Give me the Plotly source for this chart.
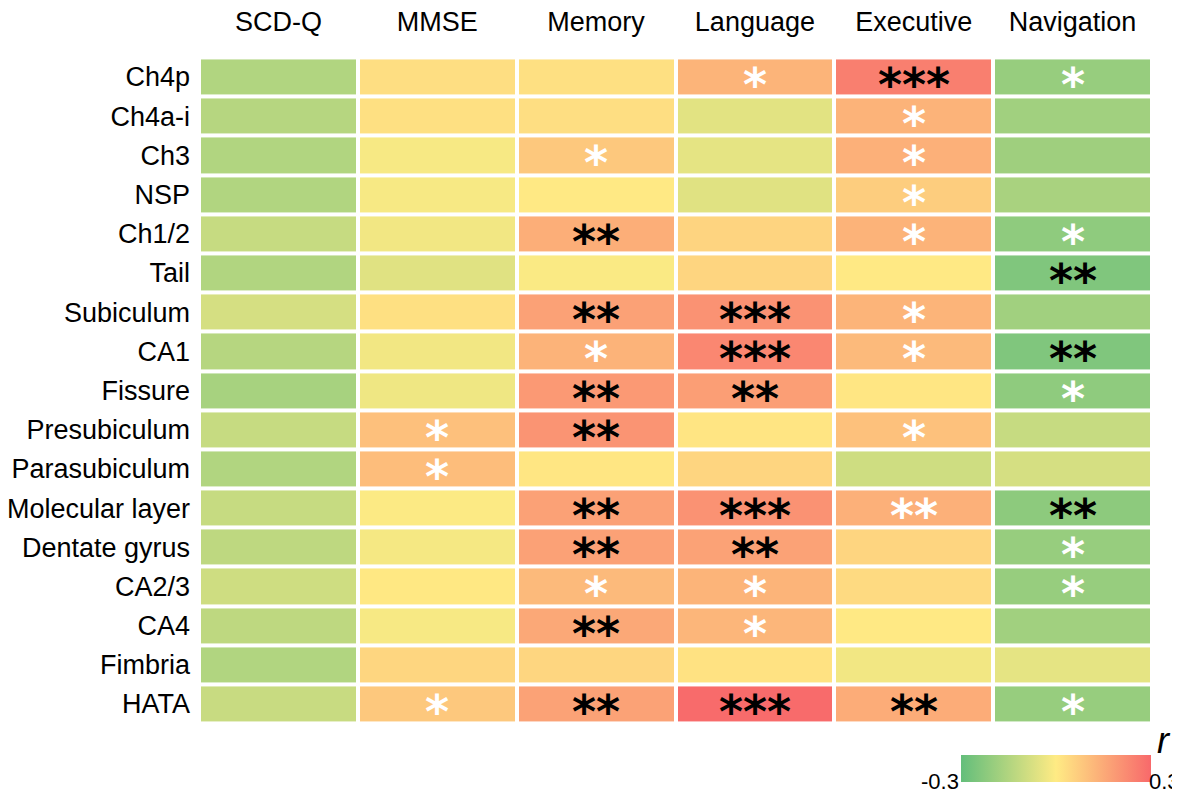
import plotly.graph_objects as go

# columns and hippocampal / basal forebrain subregions
measures = ["SCD-Q", "MMSE", "Memory", "Language", "Executive", "Navigation"]
regions = ["Ch4p", "Ch4a-i", "Ch3", "NSP", "Ch1/2", "Tail", "Subiculum", "CA1",
           "Fissure", "Presubiculum", "Parasubiculum", "Molecular layer",
           "Dentate gyrus", "CA2/3", "CA4", "Fimbria", "HATA"]

# correlation coefficients r (rows follow regions, columns follow measures)
r_values = [
    [-0.15, 0.030, 0.025, 0.127, 0.250, -0.200],
    [-0.14, 0.025, 0.030, -0.055, 0.130, -0.180],
    [-0.15, -0.015, 0.080, -0.050, 0.135, -0.185],
    [-0.15, -0.015, 0.005, -0.060, 0.070, -0.165],
    [-0.11, -0.025, 0.140, 0.053, 0.130, -0.215],
    [-0.15, -0.060, -0.010, 0.050, 0.005, -0.245],
    [-0.08, 0.025, 0.170, 0.205, 0.127, -0.180],
    [-0.14, -0.025, 0.130, 0.230, 0.113, -0.245],
    [-0.17, -0.030, 0.190, 0.178, 0.012, -0.215],
    [-0.11, 0.100, 0.200, 0.014, 0.097, -0.110],
    [-0.15, 0.106, 0.012, 0.050, -0.095, -0.080],
    [-0.11, -0.005, 0.170, 0.205, 0.135, -0.220],
    [-0.125, -0.020, 0.170, 0.168, 0.050, -0.200],
    [-0.095, 0.007, 0.113, 0.127, 0.040, -0.200],
    [-0.125, -0.015, 0.155, 0.122, 0.005, -0.180],
    [-0.15, 0.048, 0.048, 0.020, -0.025, -0.050],
    [-0.105, 0.080, 0.168, 0.295, 0.145, -0.200],
]

# significance marks and their colour (w = white, k = black)
stars = [
    ["", "", "", "*", "***", "*"],
    ["", "", "", "", "*", ""],
    ["", "", "*", "", "*", ""],
    ["", "", "", "", "*", ""],
    ["", "", "**", "", "*", "*"],
    ["", "", "", "", "", "**"],
    ["", "", "**", "***", "*", ""],
    ["", "", "*", "***", "*", "**"],
    ["", "", "**", "**", "", "*"],
    ["", "*", "**", "", "*", ""],
    ["", "*", "", "", "", ""],
    ["", "", "**", "***", "**", "**"],
    ["", "", "**", "**", "", "*"],
    ["", "", "*", "*", "", "*"],
    ["", "", "**", "*", "", ""],
    ["", "", "", "", "", ""],
    ["", "*", "**", "***", "**", "*"],
]
star_colors = [
    ["", "", "", "w", "k", "w"],
    ["", "", "", "", "w", ""],
    ["", "", "w", "", "w", ""],
    ["", "", "", "", "w", ""],
    ["", "", "k", "", "w", "w"],
    ["", "", "", "", "", "k"],
    ["", "", "k", "k", "w", ""],
    ["", "", "w", "k", "w", "k"],
    ["", "", "k", "k", "", "w"],
    ["", "w", "k", "", "w", ""],
    ["", "w", "", "", "", ""],
    ["", "", "k", "k", "w", "k"],
    ["", "", "k", "k", "", "w"],
    ["", "", "w", "w", "", "w"],
    ["", "", "k", "w", "", ""],
    ["", "", "", "", "", ""],
    ["", "w", "k", "k", "k", "w"],
]

r_min, r_max = -0.3, 0.3
scale = [[0.0, "#63BE7B"], [0.5, "#FFEB84"], [1.0, "#F8696B"]]
FONT = "Liberation Sans, Arial, sans-serif"
STAR_FONT = "DejaVu Sans, sans-serif"

CB_X = 0.7995
CB_Y = -0.0438

fig = go.Figure(go.Heatmap(
    z=r_values, x=measures, y=regions,
    colorscale=scale, zmin=r_min, zmax=r_max,
    xgap=4, ygap=4,
    colorbar=dict(
        orientation="h", lenmode="pixels", len=190, thickness=27,
        xanchor="left", x=CB_X, yanchor="top", y=CB_Y,
        xpad=0, ypad=0, outlinewidth=0, showticklabels=False, ticks="",
    ),
))

for i, reg in enumerate(regions):
    for j, m in enumerate(measures):
        if stars[i][j]:
            fig.add_annotation(
                x=m, y=reg, text="<b>" + stars[i][j] + "</b>", showarrow=False,
                font=dict(size=46, family=STAR_FONT,
                          color="white" if star_colors[i][j] == "w" else "black"),
                yshift=-8,
            )

# colorbar end labels and title
fig.add_annotation(xref="paper", yref="paper", x=CB_X, y=CB_Y, yshift=-12,
                   text=str(r_min), showarrow=False, xanchor="right", yanchor="top",
                   font=dict(size=22, family=FONT, color="black"))
fig.add_annotation(xref="paper", yref="paper", x=(1174 - 191) / 953, y=CB_Y, yshift=-12,
                   text=str(r_max), showarrow=False, xanchor="right", yanchor="top",
                   font=dict(size=22, family=FONT, color="black"))
fig.add_annotation(xref="paper", yref="paper", x=1.0, y=CB_Y, xshift=12, yshift=-8,
                   text="<i>r</i>", showarrow=False, xanchor="center", yanchor="bottom",
                   font=dict(size=36, family=FONT, color="black"))

fig.update_layout(
    width=1180, height=800,
    margin=dict(l=191, r=36, t=32, b=83, autoexpand=False),
    paper_bgcolor="white", plot_bgcolor="white",
    font=dict(family=FONT, size=27, color="black"),
)
fig.update_xaxes(side="top", showgrid=False, zeroline=False, ticks="",
                 tickfont=dict(size=27), ticklabelstandoff=3, automargin=False)
fig.update_yaxes(autorange="reversed", showgrid=False, zeroline=False, ticks="",
                 tickfont=dict(size=27), ticklabelstandoff=8, automargin=False)

fig.write_html("out.html")
